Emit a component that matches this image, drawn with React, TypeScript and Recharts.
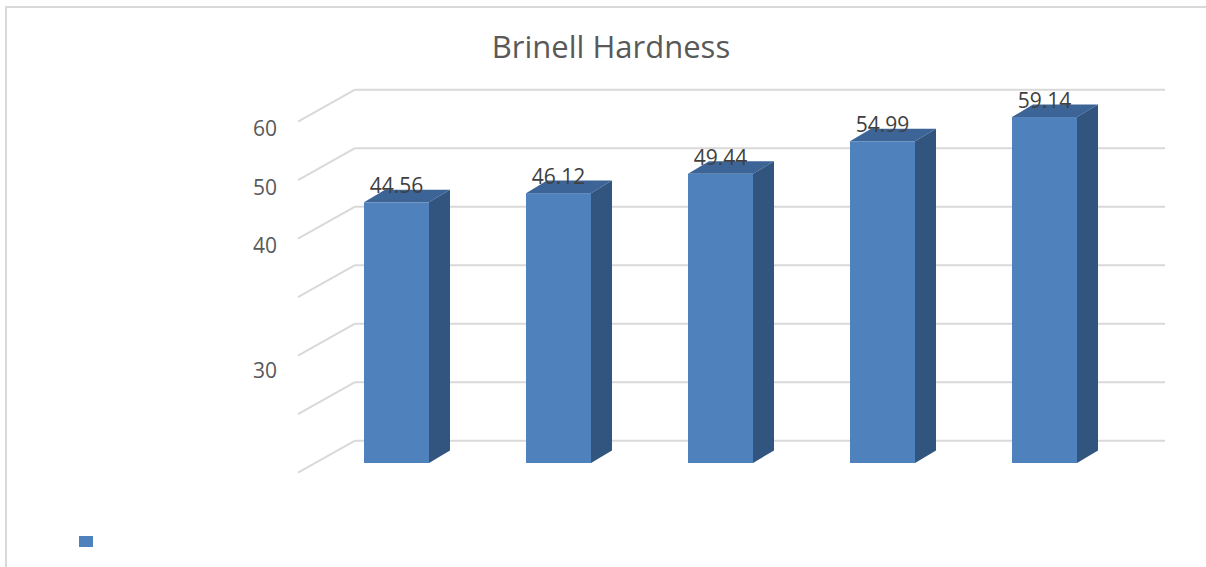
import { Bar, BarChart, CartesianGrid, LabelList, Legend, XAxis, YAxis } from "recharts";

/**
 * Brinell hardness per sample, drawn the way the spreadsheet did it: 3D
 * columns standing in a box with a slanted side wall and gridlines on the
 * back wall. The depth is faked with fixed offsets off the library's scales.
 */

const categories = ["1", "2", "3", "4", "5"];
const hardness = [44.56, 46.12, 49.44, 54.99, 59.14];
const yTicks = [0, 10, 20, 30, 40, 50, 60];
// the source chart labelled its axis oddly; kept as it was drawn
const yTickLabels = ["", "", "30", "", "40", "50", "60"];
const seriesName = "";
const title = "Brinell Hardness";

const data = categories.map((c, i) => ({ category: c, value: hardness[i] }));

const FRONT = "#4f81bd";
const TOP = "#3c6496";
const SIDE = "#325580";
const GRID = "#d9d9d9";
const FONT = '"Open Sans", "Noto Sans", sans-serif';

// bar plane -> front edge / back wall of the box
const FRONT_DX = -17;
const FRONT_DY = 9.7;
const BACK_DX = 40;
const BACK_DY = -22.3;
// depth of a single column
const BAR_DX = 21;
const BAR_DY = -12.6;

function Column(props: any) {
  const { x, y, width, height } = props;
  if (width == null || height == null) return null;
  const r = x + width;
  const b = y + height;
  return (
    <g>
      <rect x={x} y={y} width={width} height={height} fill={FRONT} />
      <polygon
        points={`${x},${y} ${x + BAR_DX},${y + BAR_DY} ${r + BAR_DX},${y + BAR_DY} ${r},${y}`}
        fill={TOP}
      />
      <polygon
        points={`${r},${y} ${r + BAR_DX},${y + BAR_DY} ${r + BAR_DX},${b + BAR_DY} ${r},${b}`}
        fill={SIDE}
      />
    </g>
  );
}

function WallLine(props: any) {
  const { x1, x2, y1 } = props;
  return (
    <g key={props.key}>
      <line
        x1={x1 + FRONT_DX}
        y1={y1 + FRONT_DY}
        x2={x1 + BACK_DX}
        y2={y1 + BACK_DY}
        stroke={GRID}
        strokeWidth={2}
      />
      <line x1={x1 + BACK_DX} y1={y1 + BACK_DY} x2={x2 + BACK_DX} y2={y1 + BACK_DY} stroke={GRID} strokeWidth={2} />
    </g>
  );
}

function AxisTick(props: any) {
  const { x, y, payload } = props;
  const i = yTicks.indexOf(payload.value);
  const text = yTickLabels[i] ?? "";
  if (!text) return null;
  // the lone "30" sat a little below its line in the original
  const extra = text === "30" ? 8 : 0;
  return (
    <text x={x} y={y + 24 + extra} textAnchor="end" fontSize={21} fontFamily={FONT} fill="#595959">
      {text}
    </text>
  );
}

function ValueLabel(props: any) {
  const { x, y, width, value } = props;
  return (
    <text x={x + width / 2} y={y - 9} textAnchor="middle" fontSize={21} fontFamily={FONT} fill="#404040">
      {Number(value).toFixed(2)}
    </text>
  );
}

function LegendSwatch(props: any) {
  const items = props.payload ?? [];
  return (
    <div style={{ display: "flex" }}>
      {items.map((e: any, i: number) => (
        <span key={i} style={{ display: "block", width: 14, height: 11, background: e.color }} />
      ))}
    </div>
  );
}

export default function App() {
  // fixed to the viewport so the frame can sit inside the body margin, as in the original
  return (
    <div
      style={{
        position: "fixed",
        left: 0,
        top: 0,
        width: 1206,
        height: 567,
        overflow: "hidden",
        background: "#fff",
        fontFamily: FONT,
      }}
    >
      <div
        style={{
          position: "absolute",
          left: 5,
          top: 6,
          width: 1300,
          height: 700,
          boxSizing: "border-box",
          borderTop: `2px solid ${GRID}`,
          borderLeft: `2px solid ${GRID}`,
        }}
      />
      <div
        style={{
          position: "absolute",
          left: 0,
          top: 31,
          width: 1222,
          textAlign: "center",
          fontSize: 31,
          lineHeight: "31px",
          color: "#595959",
        }}
      >
        {title}
      </div>
      <div style={{ position: "absolute", left: 0, top: 0 }}>
        <BarChart width={1206} height={567} data={data} margin={{ top: 112, right: 81, bottom: 104, left: 255 }}>
          <CartesianGrid vertical={false} horizontal={WallLine} />
          <XAxis dataKey="category" hide />
          <YAxis
            width={60}
            domain={[0, 60]}
            ticks={yTicks}
            interval={0}
            axisLine={false}
            tickLine={false}
            tickMargin={32}
            tick={AxisTick}
          />
          <Legend
            layout="horizontal"
            verticalAlign="middle"
            align="center"
            content={LegendSwatch}
            wrapperStyle={{ left: 79, top: 536, width: "auto" }}
          />
          <Bar dataKey="value" name={seriesName} fill={FRONT} barSize={65} shape={Column} isAnimationActive={false}>
            <LabelList dataKey="value" content={ValueLabel} />
          </Bar>
        </BarChart>
      </div>
    </div>
  );
}
